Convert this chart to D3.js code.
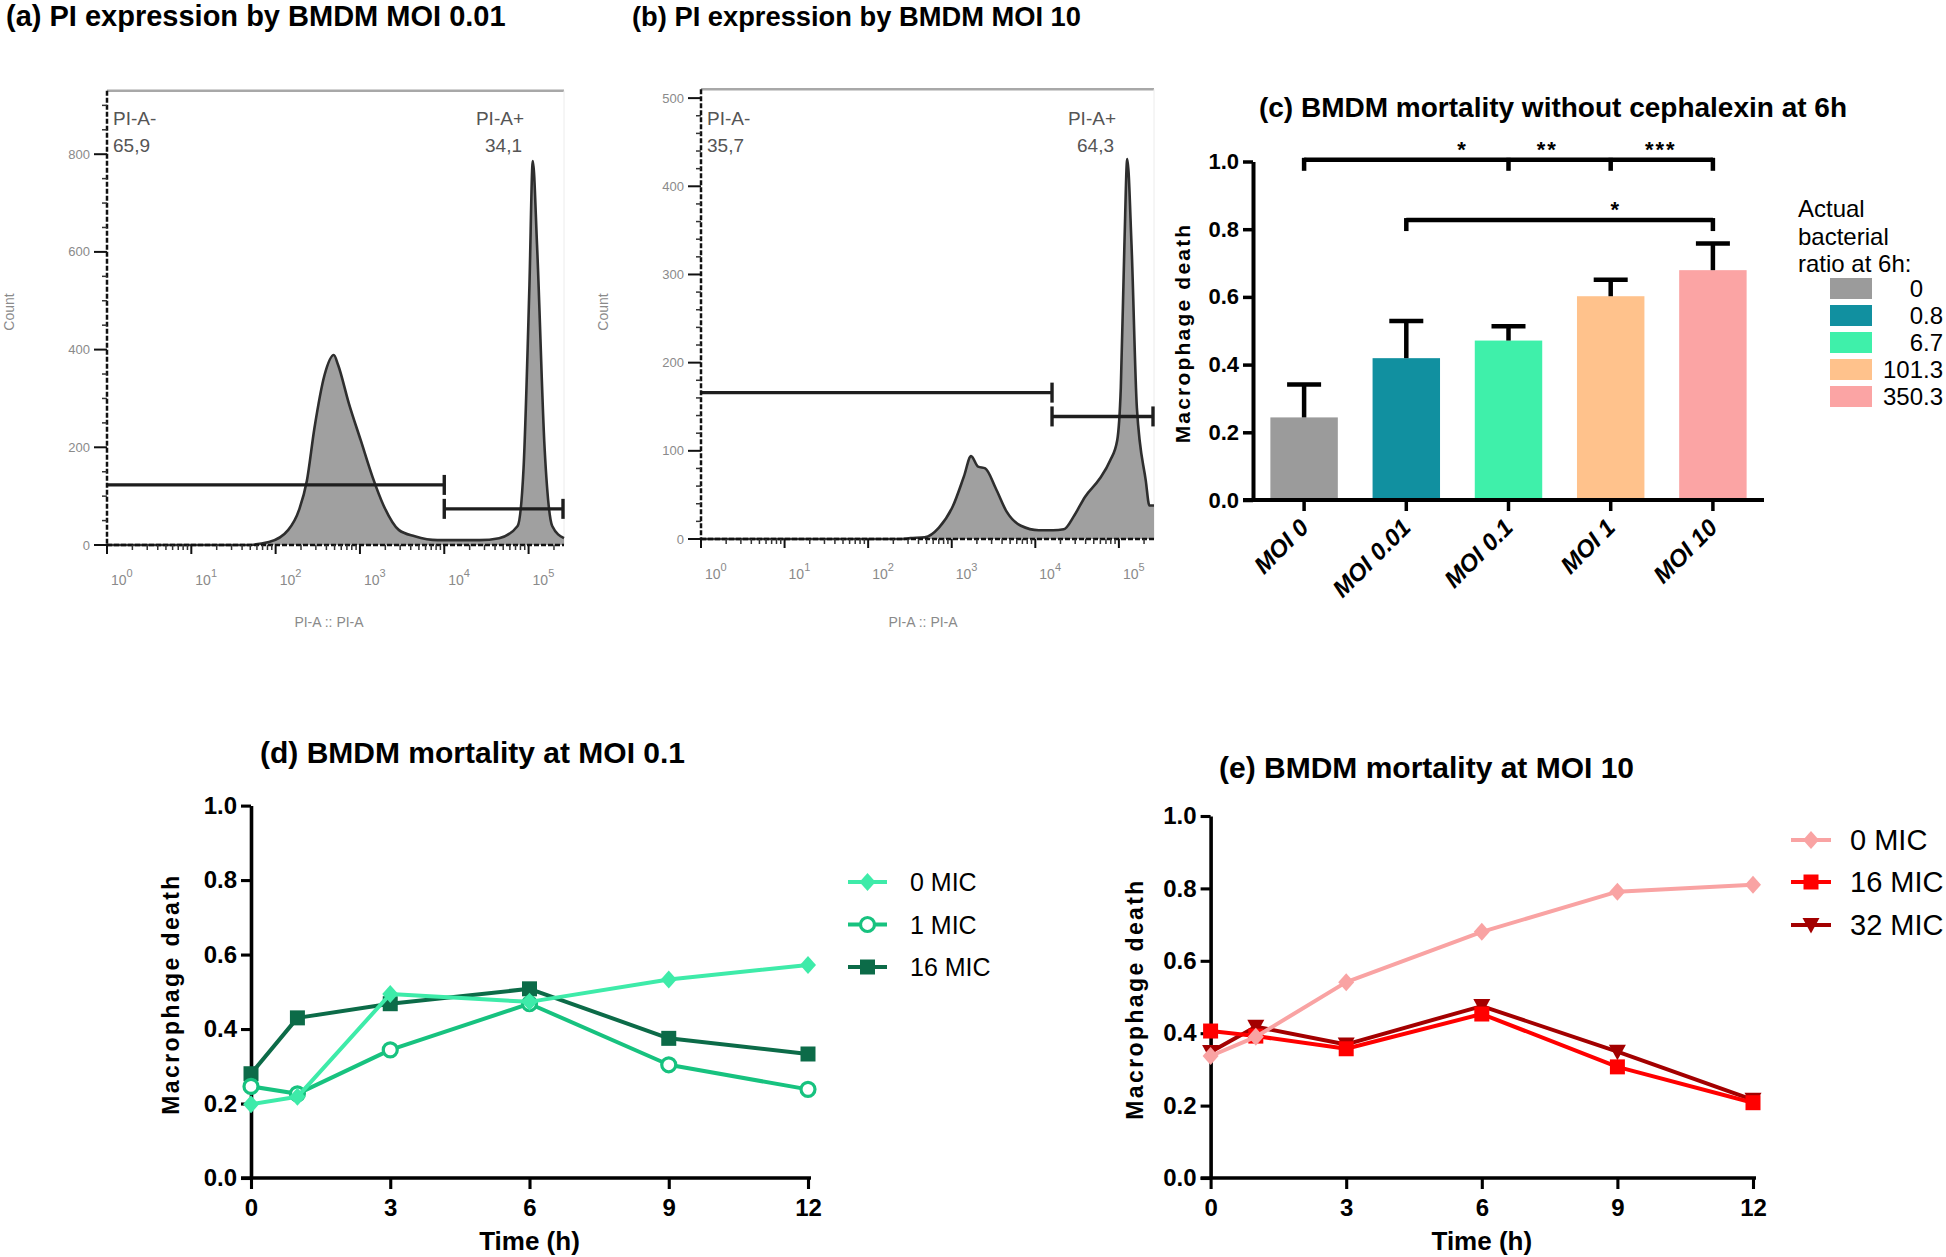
<!DOCTYPE html>
<html><head><meta charset="utf-8">
<script src="https://d3js.org/d3.v7.min.js"></script>
<style>
html,body{margin:0;padding:0;background:#fff;}
svg{display:block;}
text{font-family:"Liberation Sans",Arial,Helvetica,sans-serif;}
</style></head>
<body>
<svg id="fig" width="1946" height="1257"></svg>
<script>
// ================= DATA =================
// (a) / (b) flow cytometry histograms : PI-A intensity (log10 units) vs cell count
const histA_log   = [0, 1.65, 1.92, 2.15, 2.28, 2.37, 2.46, 2.58, 2.69, 2.74, 2.87, 3.01, 3.15, 3.28, 3.46, 3.65, 3.92, 4.42, 4.65, 4.87, 4.94, 5.01, 5.05, 5.10, 5.19, 5.28, 5.42];
const histA_count = [0, 0, 6, 31, 73, 131, 239, 348, 389, 369, 289, 214, 139, 81, 31, 18, 10, 10, 14, 39, 156, 531, 786, 615, 198, 39, 14];
const histB_log   = [0, 2.4, 2.505, 2.676, 2.847, 3.017, 3.146, 3.231, 3.316, 3.401, 3.529, 3.657, 3.828, 4.042, 4.212, 4.34, 4.468, 4.596, 4.767, 4.895, 4.98, 5.023, 5.066, 5.1, 5.151, 5.215, 5.322, 5.365, 5.42];
const histB_count = [0, 0, 1, 2, 13, 38, 71, 94, 82, 80, 57, 31, 15, 10, 10, 11, 27, 48, 68, 89, 112, 172, 334, 431, 334, 149, 66, 38, 38];
const flowDecades = [0, 1, 2, 3, 4, 5];
const flowLogMax = 5.42;
const yTicksA = [0, 200, 400, 600, 800];
const yTicksB = [0, 100, 200, 300, 400, 500];
const gateA = {split: 4.0, neg: 123, pos: 74};
const gateB = {split: 4.2, neg: 166, pos: 139};
const popLabelsA = ["PI-A-", "65,9", "PI-A+", "34,1"];
const popLabelsB = ["PI-A-", "35,7", "PI-A+", "64,3"];

// (c) bar chart
const barCats   = ["MOI 0", "MOI 0.01", "MOI 0.1", "MOI 1", "MOI 10"];
const barMeans  = [0.244, 0.419, 0.471, 0.602, 0.679];
const barErrTop = [0.341, 0.529, 0.513, 0.651, 0.758];
const barColors = ["#9b9b9b", "#1190a0", "#3ff0aa", "#ffc28c", "#fba4a4"];
const legendTitleC  = ["Actual", "bacterial", "ratio at 6h:"];
const legendValuesC = ["0", "0.8", "6.7", "101.3", "350.3"];
const unitTicks = [0, 0.2, 0.4, 0.6, 0.8, 1.0];
const sigBrackets = [{from: 0, to: 4, drops: [0, 2, 3, 4], level: 1.005},
                     {from: 1, to: 4, drops: [1, 4], level: 0.827}];
const sigStars = [{text: "*", pos: 1.55, level: 1.053}, {text: "**", pos: 2.38, level: 1.053},
                  {text: "***", pos: 3.49, level: 1.053}, {text: "*", pos: 3.05, level: 0.874}];

// (d) / (e) time courses
const timePoints = [0, 1, 3, 6, 9, 12];
const timeTicks  = [0, 3, 6, 9, 12];
const d_0MIC  = [0.198, 0.218, 0.494, 0.473, 0.533, 0.572];
const d_1MIC  = [0.246, 0.226, 0.344, 0.468, 0.304, 0.238];
const d_16MIC = [0.280, 0.430, 0.468, 0.508, 0.375, 0.333];
const e_0MIC  = [0.337, 0.390, 0.541, 0.680, 0.791, 0.810];
const e_16MIC = [0.406, 0.392, 0.357, 0.453, 0.307, 0.208];
const e_32MIC = [0.348, 0.418, 0.369, 0.475, 0.349, 0.216];

// ================= DRAWING =================
const svg = d3.select("#fig");
const FONT = '"Liberation Sans",Arial,Helvetica,sans-serif';

function drawFlow(o) {
  const g = svg.append("g");
  const x = d3.scaleLinear().domain([0, flowLogMax]).range([o.left, o.right]);
  const y = d3.scaleLinear().domain([0, o.ymax]).range([o.bottom, o.top]);
  g.append("text").attr("x", o.titleX).attr("y", 26).attr("font-size", o.titleFs)
    .attr("font-weight", "bold").attr("fill", "#000").text(o.title);
  // frame
  g.append("line").attr("x1", o.left).attr("x2", o.right).attr("y1", o.top).attr("y2", o.top)
    .attr("stroke", "#a8a8a8").attr("stroke-width", 2.5);
  g.append("line").attr("x1", o.right).attr("x2", o.right).attr("y1", o.top).attr("y2", o.bottom)
    .attr("stroke", "#ececec").attr("stroke-width", 1);
  const pts = o.logs.map((l, i) => [l, o.counts[i]]);
  const area = d3.area().x(d => x(d[0])).y0(y(0)).y1(d => y(d[1])).curve(d3.curveMonotoneX);
  const line = d3.line().x(d => x(d[0])).y(d => y(d[1])).curve(d3.curveMonotoneX);
  g.append("path").datum(pts).attr("d", area).attr("fill", "#a0a0a0");
  g.append("path").datum(pts).attr("d", line).attr("fill", "none")
    .attr("stroke", "#2e2e2e").attr("stroke-width", 2.6);
  // gates
  const gs = {stroke: "#1e1e1e", w: 3.4, cap: 10};
  const xs = x(o.gate.split);
  const yn = y(o.gate.neg), yp = y(o.gate.pos);
  const gl = (x1, y1, x2, y2) => g.append("line").attr("x1", x1).attr("y1", y1).attr("x2", x2).attr("y2", y2)
    .attr("stroke", gs.stroke).attr("stroke-width", gs.w);
  gl(x(0), yn, xs, yn); gl(xs, yn - gs.cap, xs, yn + gs.cap);
  gl(xs, yp, x(flowLogMax), yp); gl(xs, yp - gs.cap, xs, yp + gs.cap);
  gl(x(flowLogMax) - 1, yp - gs.cap, x(flowLogMax) - 1, yp + gs.cap);
  // axes
  g.append("line").attr("x1", o.left).attr("x2", o.left).attr("y1", o.top).attr("y2", o.bottom)
    .attr("stroke", "#111").attr("stroke-width", 2.5).attr("stroke-dasharray", "5,2");
  g.append("line").attr("x1", o.left).attr("x2", o.right).attr("y1", o.bottom).attr("y2", o.bottom)
    .attr("stroke", "#111").attr("stroke-width", 2.5).attr("stroke-dasharray", "5,2");
  const minorY = d3.range(0, o.ymax, o.minor).filter(v => !o.yticks.includes(v));
  g.selectAll(null).data(minorY).join("line").attr("x1", o.left - 5).attr("x2", o.left)
    .attr("y1", d => y(d)).attr("y2", d => y(d)).attr("stroke", "#333").attr("stroke-width", 1.5);
  g.selectAll(null).data(o.yticks).join("line").attr("x1", o.left - 13).attr("x2", o.left)
    .attr("y1", d => y(d)).attr("y2", d => y(d)).attr("stroke", "#111").attr("stroke-width", 2);
  g.selectAll(null).data(o.yticks).join("text").attr("x", o.left - 17).attr("y", d => y(d) + 4.5)
    .attr("text-anchor", "end").attr("font-size", 13).attr("fill", "#8a8a8a").text(d => d);
  const minorX = [];
  flowDecades.forEach(k => { for (let m = 2; m <= 9; m++) { const v = k + Math.log10(m); if (v < flowLogMax) minorX.push(v); } });
  g.selectAll(null).data(minorX).join("line").attr("x1", d => x(d)).attr("x2", d => x(d))
    .attr("y1", o.bottom).attr("y2", o.bottom + 5).attr("stroke", "#333").attr("stroke-width", 1.5);
  g.selectAll(null).data(flowDecades).join("line").attr("x1", d => x(d)).attr("x2", d => x(d))
    .attr("y1", o.bottom).attr("y2", o.bottom + 9).attr("stroke", "#111").attr("stroke-width", 2);
  const lab = g.selectAll(null).data(flowDecades).join("text").attr("x", d => x(d) + 4).attr("y", o.bottom + 40)
    .attr("font-size", 14).attr("fill", "#8a8a8a");
  lab.append("tspan").text("10");
  lab.append("tspan").attr("dy", -8).attr("font-size", 11).text(d => d);
  g.append("text").attr("x", o.xlabX).attr("y", 627).attr("text-anchor", "middle")
    .attr("font-size", 14).attr("fill", "#8a8a8a").text("PI-A :: PI-A");
  g.append("text").attr("transform", `translate(${o.countX},312) rotate(-90)`).attr("text-anchor", "middle")
    .attr("font-size", 14).attr("fill", "#8a8a8a").text("Count");
  // population labels
  g.append("text").attr("x", o.left + 6).attr("y", 125).attr("font-size", 19).attr("fill", "#555").text(o.pops[0]);
  g.append("text").attr("x", o.left + 6).attr("y", 152).attr("font-size", 19).attr("fill", "#555").text(o.pops[1]);
  g.append("text").attr("x", o.popRight).attr("y", 125).attr("text-anchor", "end").attr("font-size", 19).attr("fill", "#555").text(o.pops[2]);
  g.append("text").attr("x", o.popRight - 2).attr("y", 152).attr("text-anchor", "end").attr("font-size", 19).attr("fill", "#555").text(o.pops[3]);
}

drawFlow({title: "(a) PI expression by BMDM MOI 0.01", titleX: 6, titleFs: 29, left: 107, right: 564, top: 90.7, bottom: 545,
  ymax: 930, yticks: yTicksA, minor: 50, logs: histA_log, counts: histA_count, gate: gateA,
  pops: popLabelsA, popRight: 524, xlabX: 329, countX: 14});
drawFlow({title: "(b) PI expression by BMDM MOI 10", titleX: 632, titleFs: 27.3, left: 701, right: 1154, top: 89.3, bottom: 539,
  ymax: 510, yticks: yTicksB, minor: 20, logs: histB_log, counts: histB_count, gate: gateB,
  pops: popLabelsB, popRight: 1116, xlabX: 923, countX: 608});

function styleAxis(sel, w, fs) {
  sel.attr("font-family", FONT);
  sel.select(".domain").attr("stroke", "#000").attr("stroke-width", w);
  sel.selectAll(".tick line").attr("stroke", "#000").attr("stroke-width", w - 0.5);
  sel.selectAll(".tick text").attr("font-size", fs).attr("font-weight", "bold").attr("fill", "#000");
}

// ---------- (c) ----------
(function () {
  const g = svg.append("g");
  const xC = d3.scaleBand().domain(barCats).range([1253, 1764]).paddingInner(0.34).paddingOuter(0.17);
  const yC = d3.scaleLinear().domain([0, 1]).range([500, 161.5]);
  const cx = i => xC(barCats[0]) + xC.bandwidth() / 2 + i * xC.step();
  g.append("text").attr("x", 1553).attr("y", 117).attr("text-anchor", "middle").attr("font-size", 28)
    .attr("font-weight", "bold").text("(c) BMDM mortality without cephalexin at 6h");
  g.selectAll(null).data(barCats).join("rect").attr("x", d => xC(d)).attr("width", xC.bandwidth())
    .attr("y", (d, i) => yC(barMeans[i])).attr("height", (d, i) => yC(0) - yC(barMeans[i]))
    .attr("fill", (d, i) => barColors[i]);
  // error bars
  g.selectAll(null).data(barCats).join("line").attr("x1", (d, i) => cx(i)).attr("x2", (d, i) => cx(i))
    .attr("y1", (d, i) => yC(barMeans[i])).attr("y2", (d, i) => yC(barErrTop[i]))
    .attr("stroke", "#000").attr("stroke-width", 4.5);
  g.selectAll(null).data(barCats).join("line").attr("x1", (d, i) => cx(i) - 17).attr("x2", (d, i) => cx(i) + 17)
    .attr("y1", (d, i) => yC(barErrTop[i])).attr("y2", (d, i) => yC(barErrTop[i]))
    .attr("stroke", "#000").attr("stroke-width", 4.5);
  // axes
  g.append("g").attr("transform", "translate(1253,0)")
    .call(d3.axisLeft(yC).tickValues(unitTicks).tickFormat(d3.format(".1f")).tickSize(10).tickSizeOuter(0).tickPadding(4))
    .call(s => styleAxis(s, 4, 22));
  g.append("line").attr("x1", 1243).attr("x2", 1764).attr("y1", 500).attr("y2", 500)
    .attr("stroke", "#000").attr("stroke-width", 4);
  g.selectAll(null).data(barCats).join("line").attr("x1", (d, i) => cx(i)).attr("x2", (d, i) => cx(i))
    .attr("y1", 500).attr("y2", 511).attr("stroke", "#000").attr("stroke-width", 3.5);
  g.selectAll(null).data(barCats).join("text")
    .attr("transform", (d, i) => `translate(${cx(i) + 6},529) rotate(-45)`)
    .attr("text-anchor", "end").attr("font-size", 24).attr("font-weight", "bold").attr("font-style", "italic")
    .text(d => d);
  g.append("text").attr("transform", "translate(1190,333) rotate(-90)").attr("text-anchor", "middle")
    .attr("font-size", 21).attr("font-weight", "bold").attr("letter-spacing", 2.2).text("Macrophage death");
  // significance
  sigBrackets.forEach(b => {
    const yy = yC(b.level);
    g.append("line").attr("x1", cx(b.from)).attr("x2", cx(b.to)).attr("y1", yy).attr("y2", yy)
      .attr("stroke", "#000").attr("stroke-width", 4.5);
    b.drops.forEach(k => g.append("line").attr("x1", cx(k)).attr("x2", cx(k)).attr("y1", yy - 2).attr("y2", yy + 11)
      .attr("stroke", "#000").attr("stroke-width", 4.5));
  });
  sigStars.forEach(s => g.append("text").attr("x", cx(s.pos)).attr("y", yC(s.level) + 13)
    .attr("text-anchor", "middle").attr("font-size", 22).attr("font-weight", "bold").attr("letter-spacing", 2).text(s.text));
  // legend
  legendTitleC.forEach((t, i) => g.append("text").attr("x", 1798).attr("y", 217 + i * 27.5)
    .attr("font-size", 24).text(t));
  legendValuesC.forEach((v, i) => {
    const yy = 288.5 + i * 27;
    g.append("rect").attr("x", 1830).attr("y", yy - 10.5).attr("width", 42).attr("height", 21).attr("fill", barColors[i]);
    const parts = v.split(".");
    g.append("text").attr("x", 1923).attr("y", yy + 8.6).attr("text-anchor", "end").attr("font-size", 24).text(parts[0]);
    if (parts[1]) g.append("text").attr("x", 1923).attr("y", yy + 8.6).attr("font-size", 24).text("." + parts[1]);
  });
})();

// ---------- (d) and (e) ----------
const markerPath = {
  diamond: "M0,-9L8,0L0,9L-8,0Z",
  square: "M-7.5,-7.5H7.5V7.5H-7.5Z",
  triDown: "M-8.5,-7L8.5,-7L0,8.5Z"
};
function drawMarker(g, type, color, px, py) {
  if (type === "circle") {
    g.append("circle").attr("cx", px).attr("cy", py).attr("r", 7).attr("fill", "#fff")
      .attr("stroke", color).attr("stroke-width", 3.2);
  } else {
    g.append("path").attr("d", markerPath[type]).attr("transform", `translate(${px},${py})`).attr("fill", color);
  }
}
function drawLinePanel(o) {
  const g = svg.append("g");
  const x = d3.scaleLinear().domain([0, 12]).range([o.left, o.right]);
  const y = d3.scaleLinear().domain([0, 1]).range([o.bottom, o.top]);
  g.append("text").attr("x", o.titleX).attr("y", o.titleY).attr("font-size", 30).attr("font-weight", "bold").text(o.title);
  g.append("g").attr("transform", `translate(${o.left},0)`)
    .call(d3.axisLeft(y).tickValues(unitTicks).tickFormat(d3.format(".1f")).tickSize(10).tickSizeOuter(0).tickPadding(4))
    .call(s => styleAxis(s, 3.6, 24));
  g.append("line").attr("x1", o.left - 10).attr("x2", o.right + 3).attr("y1", o.bottom).attr("y2", o.bottom)
    .attr("stroke", "#000").attr("stroke-width", 3.6);
  const xa = g.append("g").attr("transform", `translate(0,${o.bottom})`)
    .call(d3.axisBottom(x).tickValues(timeTicks).tickFormat(d3.format("d")).tickSize(11).tickSizeOuter(0))
    .call(s => styleAxis(s, 3.6, 24));
  xa.select(".domain").remove();
  xa.selectAll(".tick text").attr("y", 38).attr("dy", 0);
  g.append("text").attr("x", x(6)).attr("y", 1250).attr("text-anchor", "middle").attr("font-size", 26)
    .attr("font-weight", "bold").text("Time (h)");
  g.append("text").attr("transform", `translate(${o.ylabX},${o.ylabY}) rotate(-90)`).attr("text-anchor", "middle")
    .attr("font-size", 23).attr("font-weight", "bold").attr("letter-spacing", 2.4).text("Macrophage death");
  const line = d3.line().x((d, i) => x(timePoints[i])).y(d => y(d));
  o.series.forEach(s => {
    g.append("path").datum(s.values).attr("d", line).attr("fill", "none").attr("stroke", s.color)
      .attr("stroke-width", 4).attr("stroke-linejoin", "round");
    s.values.forEach((v, i) => drawMarker(g, s.marker, s.color, x(timePoints[i]), y(v)));
  });
  o.legend.forEach((s, i) => {
    const yy = o.legY[i];
    g.append("line").attr("x1", o.legX1).attr("x2", o.legX2).attr("y1", yy).attr("y2", yy)
      .attr("stroke", s.color).attr("stroke-width", 4);
    drawMarker(g, s.marker, s.color, (o.legX1 + o.legX2) / 2, yy);
    g.append("text").attr("x", o.legTextX).attr("y", yy + o.legFs * 0.36).attr("font-size", o.legFs).text(s.label);
  });
}

const dSeries = [
  {label: "0 MIC", values: d_0MIC, color: "#3eeba9", marker: "diamond"},
  {label: "1 MIC", values: d_1MIC, color: "#17c27f", marker: "circle"},
  {label: "16 MIC", values: d_16MIC, color: "#0c6b48", marker: "square"}
];
drawLinePanel({title: "(d) BMDM mortality at MOI 0.1", titleX: 260, titleY: 763, left: 251, right: 808, top: 805.6, bottom: 1178,
  ylabX: 179, ylabY: 994, series: [dSeries[2], dSeries[1], dSeries[0]], legend: dSeries,
  legX1: 848, legX2: 887, legY: [882, 924.5, 967], legTextX: 910, legFs: 25});

const eSeries = [
  {label: "0 MIC", values: e_0MIC, color: "#f9a3a3", marker: "diamond"},
  {label: "16 MIC", values: e_16MIC, color: "#ff0000", marker: "square"},
  {label: "32 MIC", values: e_32MIC, color: "#a30000", marker: "triDown"}
];
drawLinePanel({title: "(e) BMDM mortality at MOI 10", titleX: 1219, titleY: 778, left: 1210.6, right: 1753, top: 816, bottom: 1178,
  ylabX: 1143, ylabY: 999, series: [eSeries[2], eSeries[1], eSeries[0]], legend: eSeries,
  legX1: 1791, legX2: 1831, legY: [840, 882, 925], legTextX: 1850, legFs: 29});
</script>
</body></html>
